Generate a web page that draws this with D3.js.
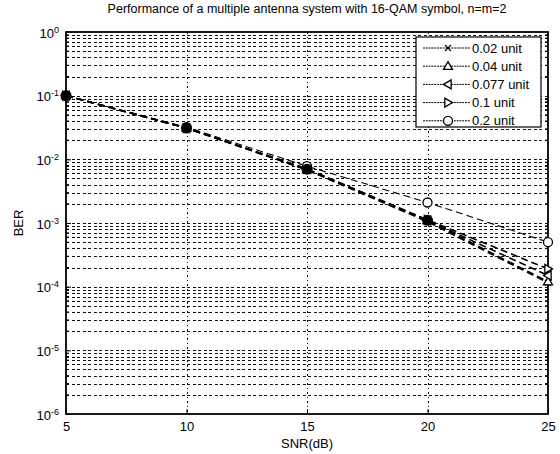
<!DOCTYPE html>
<html><head><meta charset="utf-8">
<script src="https://cdn.jsdelivr.net/npm/d3@7"></script>
<style>body{margin:0;background:#fff;}svg{display:block;font-family:"Liberation Sans",Arial,sans-serif;}</style>
</head><body>
<svg id="c" width="560" height="454"></svg>
<script>
const snr = [5, 10, 15, 20, 25];
const seriesNames = ["0.02 unit", "0.04 unit", "0.077 unit", "0.1 unit", "0.2 unit"];
const markers = ["x", "tri-up", "tri-left", "tri-right", "circle"];
const ber002 = [0.1, 0.031, 0.0068, 0.00105, 0.000115];
const ber004 = [0.1, 0.031, 0.0069, 0.0011, 0.00012];
const ber0077 = [0.1, 0.031, 0.007, 0.0011, 0.00015];
const ber01 = [0.1, 0.031, 0.0071, 0.00112, 0.00019];
const ber02 = [0.1, 0.032, 0.0078, 0.0021, 0.0005];
const xTicks = [5, 10, 15, 20, 25];
const yExps = [0, -1, -2, -3, -4, -5, -6];
const title = "Performance of a multiple antenna system with 16-QAM symbol, n=m=2";

const series = [ber002, ber004, ber0077, ber01, ber02];
const svg = d3.select("#c");
const L = 66, R = 548, T = 32, B = 414;
const x = d3.scaleLinear().domain([5, 25]).range([L, R]);
const y = d3.scaleLog().domain([1e-6, 1]).range([B, T]);

// grid
const g = svg.append("g").attr("shape-rendering", "crispEdges");
const minor = [];
for (let e = -6; e < 0; e++) for (let k = 2; k <= 9; k++) minor.push(k * Math.pow(10, e));
const majors = yExps.map(e => Math.pow(10, e));
g.selectAll("line.ym").data(minor.concat(majors.slice(1, -1))).enter().append("line")
  .attr("x1", L).attr("x2", R).attr("y1", d => Math.round(y(d)) + 0.5).attr("y2", d => Math.round(y(d)) + 0.5)
  .attr("stroke", "#111").attr("stroke-width", 1).attr("stroke-dasharray", "3,2.5");
g.selectAll("line.xg").data(xTicks.slice(1, -1)).enter().append("line")
  .attr("y1", T).attr("y2", B).attr("x1", d => Math.round(x(d)) + 0.5).attr("x2", d => Math.round(x(d)) + 0.5)
  .attr("stroke", "#111").attr("stroke-width", 1).attr("stroke-dasharray", "1.5,3");

// axes
const xAxis = d3.axisBottom(x).tickValues(xTicks).tickSize(-5).tickPadding(8).tickFormat(d3.format("d"));
const ax = svg.append("g").attr("transform", `translate(0,${B})`).call(xAxis);
ax.select(".domain").remove();
ax.selectAll("text").attr("font-size", 13).attr("fill", "#000").attr("font-family", "Liberation Sans, Arial");
ax.selectAll("line").attr("stroke", "#000");

const yAxis = d3.axisLeft(y).tickValues(majors).tickSize(-5).tickPadding(6).tickFormat(() => "");
const ay = svg.append("g").attr("transform", `translate(${L},0)`).call(yAxis);
ay.select(".domain").remove();
ay.selectAll("line").attr("stroke", "#000");
ay.selectAll(".tick").each(function(d) {
  const e = Math.round(Math.log10(d));
  const t = d3.select(this).append("text").attr("x", -7).attr("dy", "0.4em")
    .attr("text-anchor", "end").attr("fill", "#000").attr("font-size", 13);
  t.append("tspan").text("10");
  t.append("tspan").attr("dy", "-0.55em").attr("font-size", 9).text(String(e));
});
// minor ticks
svg.append("g").selectAll("line").data(minor).enter().append("line")
  .attr("x1", L).attr("x2", L + 3).attr("y1", d => y(d)).attr("y2", d => y(d)).attr("stroke", "#000");
svg.append("g").selectAll("line").data(minor).enter().append("line")
  .attr("x1", R - 3).attr("x2", R).attr("y1", d => y(d)).attr("y2", d => y(d)).attr("stroke", "#000");

// box
svg.append("rect").attr("x", L).attr("y", T).attr("width", R - L).attr("height", B - T)
  .attr("fill", "none").attr("stroke", "#000").attr("stroke-width", 1.8);

// lines
const line = d3.line().x((d, i) => x(snr[i])).y(d => y(d));
const lg = svg.append("g");
series.forEach((s, i) => {
  lg.append("path").datum(s).attr("d", line).attr("fill", "none").attr("stroke", "#000")
    .attr("stroke-width", i === 4 ? 1.1 : 1.6).attr("stroke-dasharray", "7,4");
});
function marker(sel, type, cx, cy) {
  const r = 4.5;
  if (type === "x") {
    sel.append("path").attr("d", `M${cx-3},${cy-3}L${cx+3},${cy+3}M${cx-3},${cy+3}L${cx+3},${cy-3}`)
      .attr("stroke", "#000").attr("stroke-width", 1.2).attr("fill", "none");
  } else if (type === "circle") {
    sel.append("circle").attr("cx", cx).attr("cy", cy).attr("r", r).attr("fill", "#fff")
      .attr("stroke", "#000").attr("stroke-width", 1.3);
  } else {
    let pts;
    if (type === "tri-up") pts = [[cx, cy - r], [cx + r, cy + r * 0.7], [cx - r, cy + r * 0.7]];
    if (type === "tri-left") pts = [[cx - r, cy], [cx + r * 0.7, cy - r], [cx + r * 0.7, cy + r]];
    if (type === "tri-right") pts = [[cx + r, cy], [cx - r * 0.7, cy - r], [cx - r * 0.7, cy + r]];
    sel.append("path").attr("d", "M" + pts.map(p => p.join(",")).join("L") + "Z")
      .attr("fill", "#fff").attr("stroke", "#000").attr("stroke-width", 1.3);
  }
}
series.forEach((s, i) => {
  s.forEach((v, j) => marker(lg, markers[i], x(snr[j]), y(v)));
});
// blobs where all overlap
lg.selectAll("circle.blob").data(snr.slice(0, 4)).enter().append("circle")
  .attr("cx", d => x(d)).attr("cy", (d, j) => y(ber0077[j])).attr("r", 5.5).attr("fill", "#000");

// legend
const lx = 416, ly = 37, lw = 125, lh = 90;
const leg = svg.append("g");
leg.append("rect").attr("x", lx).attr("y", ly).attr("width", lw).attr("height", lh)
  .attr("fill", "#fff").attr("stroke", "#000").attr("stroke-width", 1.2);
seriesNames.forEach((n, i) => {
  const yy = ly + 11 + i * 18.2;
  leg.append("line").attr("x1", lx + 7).attr("x2", lx + 54).attr("y1", yy).attr("y2", yy)
    .attr("stroke", "#000").attr("stroke-width", 1).attr("stroke-dasharray", "2,0.8");
  marker(leg, markers[i], lx + 32, yy);
  leg.append("text").attr("x", lx + 56).attr("y", yy).attr("dy", "0.36em")
    .attr("font-size", 13).attr("fill", "#000").text(n);
});

// labels
svg.append("text").attr("x", (L + R) / 2).attr("y", 13).attr("text-anchor", "middle")
  .attr("font-size", 12.5).attr("fill", "#000").text(title);
svg.append("text").attr("x", (L + R) / 2).attr("y", 448).attr("text-anchor", "middle")
  .attr("font-size", 13).attr("fill", "#000").text("SNR(dB)");
svg.append("text").attr("transform", `translate(23,${(T + B) / 2}) rotate(-90)`).attr("text-anchor", "middle")
  .attr("font-size", 13).attr("fill", "#000").text("BER");
</script>
</body></html>
